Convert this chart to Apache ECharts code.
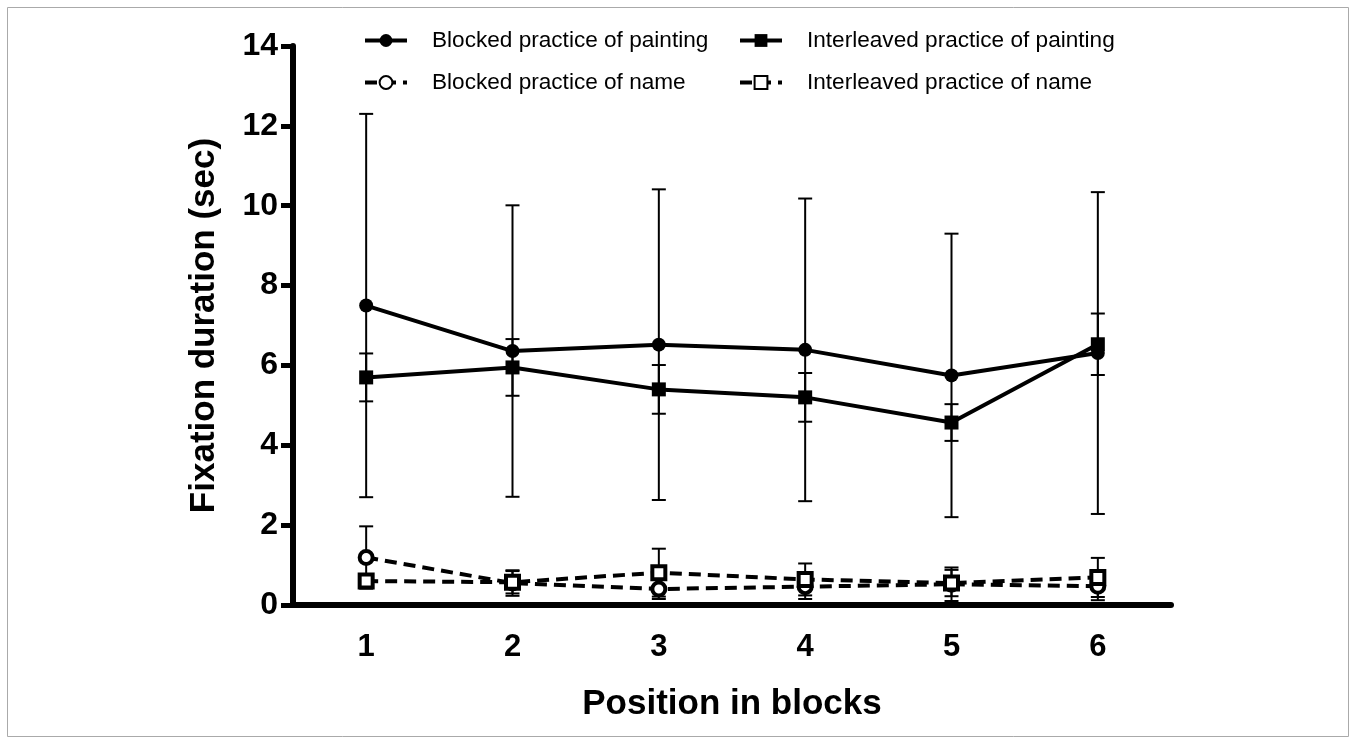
<!DOCTYPE html>
<html>
<head>
<meta charset="utf-8">
<script src="https://cdn.jsdelivr.net/npm/echarts@6/dist/echarts.min.js"></script>
<style>
  html, body { margin: 0; padding: 0; background: #fff; }
  #chart { width: 1356px; height: 744px; }
</style>
</head>
<body>
<div id="chart"></div>
<script>
// Position of the trial within a block
const positions = ['1', '2', '3', '4', '5', '6'];

// Mean fixation duration (sec) and SD per condition
const blockedPaintingMean     = [7.50, 6.36, 6.52, 6.39, 5.75, 6.31];
const blockedPaintingSD       = [4.80, 3.65, 3.89, 3.79, 3.55, 4.03];
const interleavedPaintingMean = [5.70, 5.95, 5.40, 5.20, 4.57, 6.53];
const interleavedPaintingSD   = [0.60, 0.71, 0.61, 0.61, 0.46, 0.77];
const blockedNameMean         = [1.19, 0.55, 0.40, 0.46, 0.52, 0.47];
const blockedNameSD           = [0.78, 0.32, 0.25, 0.31, 0.42, 0.35];
const interleavedNameMean     = [0.60, 0.57, 0.81, 0.64, 0.55, 0.69];
const interleavedNameSD       = [0.12, 0.28, 0.60, 0.40, 0.33, 0.49];

const seriesNames = [
  'Blocked practice of painting',
  'Interleaved practice of painting',
  'Blocked practice of name',
  'Interleaved practice of name'
];

const FONT = '"Liberation Sans", Arial, Helvetica, sans-serif';

// Vertical SD bar with caps, drawn through the axis scales
function errorBars(mean, sd, capWidth) {
  return {
    type: 'custom',
    silent: true,
    z: 1,
    data: mean.map((m, i) => [i, m - sd[i], m + sd[i]]),
    encode: { x: 0, y: [1, 2] },
    renderItem(params, api) {
      const x = api.value(0);
      const lo = api.coord([x, api.value(1)]);
      const hi = api.coord([x, api.value(2)]);
      const h = capWidth / 2;
      const st = { stroke: '#000', lineWidth: 2 };
      return {
        type: 'group',
        children: [
          { type: 'line', shape: { x1: lo[0], y1: lo[1], x2: hi[0], y2: hi[1] }, style: st },
          { type: 'line', shape: { x1: hi[0] - h, y1: hi[1], x2: hi[0] + h, y2: hi[1] }, style: st },
          { type: 'line', shape: { x1: lo[0] - h, y1: lo[1], x2: lo[0] + h, y2: lo[1] }, style: st }
        ]
      };
    }
  };
}

function lineSeries(name, data, opts) {
  return Object.assign({
    type: 'line',
    name: name,
    data: data,
    z: 3,
    lineStyle: { color: '#000', width: 4, type: opts.dashed ? [12, 7] : 'solid' },
    itemStyle: opts.hollow
      ? { color: '#fff', borderColor: '#000', borderWidth: 4 }
      : { color: '#000', borderColor: '#000', borderWidth: 0 },
    emphasis: { disabled: true },
    animation: false
  }, opts.extra || {});
}

function legendAt(name, left, top) {
  return {
    data: [name],
    left: left,
    top: top,
    itemWidth: 42,
    itemHeight: 16,
    selectedMode: false,
    lineStyle: { width: 4 },
    textStyle: { fontFamily: FONT, fontSize: 22.6, color: '#000', padding: [0, 0, 0, 20] }
  };
}

const option = {
  backgroundColor: '#fff',
  animation: false,
  graphic: [{
    type: 'rect',
    shape: { x: 7.5, y: 7.5, width: 1341, height: 729 },
    style: { fill: 'none', stroke: '#aaa', lineWidth: 1 },
    silent: true
  }],
  legend: [
    legendAt(seriesNames[0], 358, 24),
    legendAt(seriesNames[1], 733, 24),
    legendAt(seriesNames[2], 358, 66),
    legendAt(seriesNames[3], 733, 66)
  ],
  grid: { left: 293, right: 185, top: 46, bottom: 139, containLabel: false },
  xAxis: {
    type: 'category',
    data: positions,
    boundaryGap: true,
    name: 'Position in blocks',
    nameLocation: 'middle',
    nameGap: 82,
    nameTextStyle: { fontFamily: FONT, fontSize: 35, fontWeight: 'bold', color: '#000' },
    axisLine: { lineStyle: { color: '#000', width: 6 } },
    axisTick: { alignWithLabel: true, length: 14, lineStyle: { color: '#000', width: 5 } },
    axisLabel: { fontFamily: FONT, fontSize: 31, fontWeight: 'bold', color: '#000', margin: 27 },
    splitLine: { show: false }
  },
  yAxis: {
    type: 'value',
    min: 0,
    max: 14,
    interval: 2,
    name: 'Fixation duration (sec)',
    nameLocation: 'middle',
    nameGap: 71,
    nameTextStyle: { fontFamily: FONT, fontSize: 35, fontWeight: 'bold', color: '#000' },
    axisLine: { show: true, lineStyle: { color: '#000', width: 6 } },
    axisTick: { show: true, length: 12, lineStyle: { color: '#000', width: 5 } },
    axisLabel: { fontFamily: FONT, fontSize: 32, fontWeight: 'bold', color: '#000', margin: 15 },
    splitLine: { show: false }
  },
  series: [
    errorBars(blockedPaintingMean, blockedPaintingSD, 14),
    errorBars(interleavedPaintingMean, interleavedPaintingSD, 14),
    errorBars(blockedNameMean, blockedNameSD, 14),
    errorBars(interleavedNameMean, interleavedNameSD, 14),
    lineSeries(seriesNames[0], blockedPaintingMean, { extra: { symbol: 'circle', symbolSize: 14 } }),
    lineSeries(seriesNames[1], interleavedPaintingMean, { extra: { symbol: 'rect', symbolSize: 14 } }),
    lineSeries(seriesNames[2], blockedNameMean, { dashed: true, hollow: true, extra: { symbol: 'circle', symbolSize: 13 } }),
    lineSeries(seriesNames[3], interleavedNameMean, { dashed: true, hollow: true, extra: { symbol: 'rect', symbolSize: 13 } })
  ]
};

const chart = echarts.init(document.getElementById('chart'), null, { renderer: 'canvas' });
chart.setOption(option);
</script>
</body>
</html>
